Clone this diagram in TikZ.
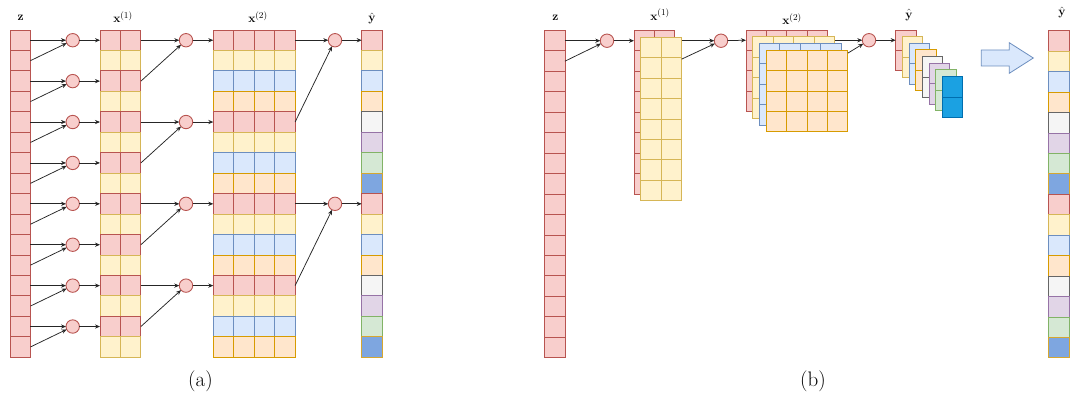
\documentclass[tikz,border=0pt]{standalone}
\usepackage{amsmath}
\usetikzlibrary{arrows.meta,calc}
\definecolor{F0}{HTML}{F8CECC}\definecolor{S0}{HTML}{B85450}
\definecolor{F1}{HTML}{FFF2CC}\definecolor{S1}{HTML}{D6B656}
\definecolor{F2}{HTML}{DAE8FC}\definecolor{S2}{HTML}{6C8EBF}
\definecolor{F3}{HTML}{FFE6CC}\definecolor{S3}{HTML}{D79B00}
\definecolor{F4}{HTML}{F5F5F5}\definecolor{S4}{HTML}{666666}
\definecolor{F5}{HTML}{E1D5E7}\definecolor{S5}{HTML}{9673A6}
\definecolor{F6}{HTML}{D5E8D4}\definecolor{S6}{HTML}{82B366}
\definecolor{F7}{HTML}{7EA6E0}\definecolor{S7}{HTML}{D6A730}
\definecolor{F8}{HTML}{1BA1E2}\definecolor{S8}{HTML}{006EAF}
\tikzset{
  cell/.style={draw, minimum width=20.45pt, minimum height=20.45pt, inner sep=0pt, outer sep=0pt, line width=0.9pt},
  colr/.style={fill=F#1, draw=S#1},
  neuron/.style={circle, draw=S0, fill=F0, minimum size=13.4pt, inner sep=0pt, outer sep=0pt, line width=0.9pt},
  conn/.style={-{Stealth[length=5pt,width=4.2pt]}, line width=0.75pt, black!85},
  lbl/.style={font=\fontsize{12.5}{14}\selectfont, inner sep=0pt},
  captxt/.style={font=\fontsize{21}{25}\selectfont, inner sep=0pt},
  bigarrow/.style={fill=F2, draw=S2, line width=0.8pt, line join=miter}
}
\begin{document}
\begin{tikzpicture}[x=1pt,y=-1pt]
\useasboundingbox (0,0) rectangle (1070,396);
\def\s{20.45}

%%%%%%%%%%%%%%%% (a)
% z column
\foreach \i in {0,...,15}
  \node[cell,colr=0] (za-\i) at (20.2,{30+\s/2+\i*\s}) {};
% x1 column
\foreach \i in {0,...,15}{
  \pgfmathtruncatemacro\c{mod(\i,2)}
  \foreach \j in {0,1}
    \node[cell,colr=\c] (x1a-\i-\j) at ({100+\s/2+\j*\s},{30+\s/2+\i*\s}) {};
}
% x2 column
\foreach \i in {0,...,15}{
  \pgfmathtruncatemacro\c{mod(\i,4)}
  \foreach \j in {0,...,3}
    \node[cell,colr=\c] (x2a-\i-\j) at ({213.3+\s/2+\j*\s},{30+\s/2+\i*\s}) {};
}
% y column
\foreach \i in {0,...,15}{
  \pgfmathtruncatemacro\c{mod(\i,8)}
  \node[cell,colr=\c] (ya-\i) at ({361.7+\s/2},{30+\s/2+\i*\s}) {};
}
% level 1 neurons
\foreach \k in {0,...,7}{
  \pgfmathtruncatemacro\a{2*\k}
  \pgfmathtruncatemacro\b{2*\k+1}
  \node[neuron] (n1a-\k) at (72.7,{30+\s/2+\a*\s}) {};
  \draw[conn] (za-\a.east) -- (n1a-\k);
  \draw[conn] (za-\b.east) -- (n1a-\k);
  \draw[conn] (n1a-\k) -- (x1a-\a-0.west);
}
% level 2 neurons
\foreach \k in {0,...,3}{
  \pgfmathtruncatemacro\a{4*\k}
  \pgfmathtruncatemacro\b{4*\k+2}
  \node[neuron] (n2a-\k) at (186,{30+\s/2+\a*\s}) {};
  \draw[conn] (x1a-\a-1.east) -- (n2a-\k);
  \draw[conn] (x1a-\b-1.east) -- (n2a-\k);
  \draw[conn] (n2a-\k) -- (x2a-\a-0.west);
}
% level 3 neurons
\foreach \k in {0,1}{
  \pgfmathtruncatemacro\a{8*\k}
  \pgfmathtruncatemacro\b{8*\k+4}
  \node[neuron] (n3a-\k) at (335,{30+\s/2+\a*\s}) {};
  \draw[conn] (x2a-\a-3.east) -- (n3a-\k);
  \draw[conn] (x2a-\b-3.east) -- (n3a-\k);
  \draw[conn] (n3a-\k) -- (ya-\a.west);
}
% labels (a)
\node[lbl] (lza) at (20.5,17.8) {$\mathbf{z}$};
\node[lbl] (lx1a) at (123,17.3) {$\mathbf{x}^{(1)}$};
\node[lbl] (lx2a) at (258,17.3) {$\mathbf{x}^{(2)}$};
\node[lbl] (lya) at (372,18.3) {$\hat{\mathbf{y}}$};
\node[captxt] (capa) at (200.5,381.5) {(a)};

%%%%%%%%%%%%%%%% (b)
% z column
\foreach \i in {0,...,15}
  \node[cell,colr=0] (zb-\i) at ({544.5+\s/2},{30.5+\s/2+\i*\s}) {};
\node[neuron] (n1b) at (607,{30.5+\s/2}) {};
\draw[conn] (zb-0.east) -- (n1b);
\draw[conn] (zb-1.east) -- (n1b);
% x1 red layer
\foreach \i in {0,...,7}
  \foreach \j in {0,1}
    \node[cell,colr=0] (x1r-\i-\j) at ({634+\s/2+\j*\s},{30.5+\s/2+\i*\s}) {};
\draw[conn] (n1b) -- (x1r-0-0.west);
\node[neuron] (n2b) at (721,{30.5+\s/2}) {};
\draw[conn] (x1r-0-1.east) -- (n2b);
% x1 yellow layer
\foreach \i in {0,...,7}
  \foreach \j in {0,1}
    \node[cell,colr=1] (x1y-\i-\j) at ({640.7+\s/2+\j*\s},{37.2+\s/2+\i*\s}) {};
\draw[conn] ([yshift=-1.5pt]x1y-0-1.south east) -- (n2b);
% x2 layers
\foreach \i in {0,...,3}
  \foreach \j in {0,...,3}
    \node[cell,colr=0] (x2l0-\i-\j) at ({746+\s/2+\j*\s},{30+\s/2+\i*\s}) {};
\draw[conn] (n2b) -- (x2l0-0-0.west);
\node[neuron] (n3b) at (869,{30+\s/2}) {};
\draw[conn] (x2l0-0-3.east) -- (n3b);
\foreach \l in {1,2,3}
  \foreach \i in {0,...,3}
    \foreach \j in {0,...,3}
      \node[cell,colr=\l] (x2l\l-\i-\j) at ({746+6.7*\l+\s/2+\j*\s},{30+6.7*\l+\s/2+\i*\s}) {};
\draw[conn] ([yshift=-3pt]x2l3-0-3.north east) -- (n3b);
% y stack
\foreach \l in {0,...,7}{
  \pgfmathtruncatemacro\c{\l==7 ? 8 : \l}
  \foreach \i in {0,1}
    \node[cell,colr=\c] (yl\l-\i) at ({895.7+6.65*\l+\s/2},{30+6.65*\l+\s/2+\i*\s}) {};
}
\draw[conn] (n3b) -- (yl0-0.west);
% big arrow
\draw[bigarrow] (981.3,50) -- (1009.3,50) -- (1009.3,42.7) -- (1033.3,58) -- (1009.3,73.3) -- (1009.3,66) -- (981.3,66) -- cycle;
% final column
\foreach \i in {0,...,15}{
  \pgfmathtruncatemacro\c{mod(\i,8)}
  \node[cell,colr=\c] (yf-\i) at ({1048.5+\s/2},{30.7+\s/2+\i*\s}) {};
}
% labels (b)
\node[lbl] (lzb) at (555.3,17.8) {$\mathbf{z}$};
\node[lbl] (lx1b) at (660,14.7) {$\mathbf{x}^{(1)}$};
\node[lbl] (lx2b) at (792,19.3) {$\mathbf{x}^{(2)}$};
\node[lbl] (lyb) at (909,15) {$\hat{\mathbf{y}}$};
\node[lbl] (lyf) at (1062,12.5) {$\hat{\mathbf{y}}$};
\node[captxt] (capb) at (813,381.5) {(b)};
\end{tikzpicture}
\end{document}
